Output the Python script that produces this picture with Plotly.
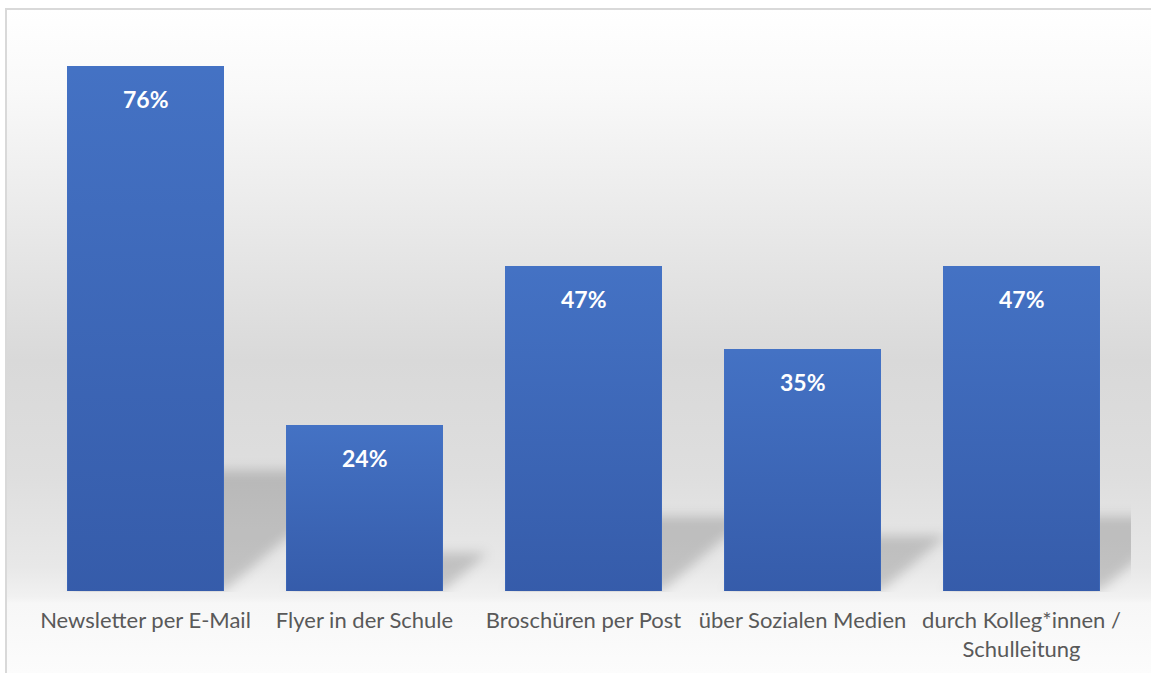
import base64
import plotly.graph_objects as go

# ---------------- data ----------------
categories = [
    "Newsletter per E-Mail",
    "Flyer in der Schule",
    "Broschüren per Post",
    "über Sozialen Medien",
    "durch Kolleg*innen /<br>Schulleitung",
]
values = [76, 24, 47, 35, 47]
value_labels = ["76%", "24%", "47%", "35%", "47%"]

# ---------------- layout constants ----------------
W, H = 1151, 673
ML, MR, MT, MB = 36, 20, 38, 82
Y_MAX = 80
BAR_W = 0.713
N = len(categories)
plot_w = W - ML - MR
plot_h = H - MT - MB
BAR_COLOR = "#4472C4"
TEXT_GREY = "#595959"
FONT = "Lato, 'Open Sans', sans-serif"


def px_x(xv):
    return ML + (xv + 0.5) / N * plot_w


def px_y(v):
    return MT + (1 - v / Y_MAX) * plot_h


# ---------------- background (gradient + soft perspective shadows) ----------------
yb = px_y(0)
polys = []
for i, v in enumerate(values):
    x0 = px_x(i - BAR_W / 2)
    x1 = px_x(i + BAR_W / 2)
    h = yb - px_y(v)
    sh = 0.23 * h
    dx = sh / 0.84
    pts = [(x0, yb), (x1, yb), (x1 + dx, yb - sh), (x0 + dx, yb - sh)]
    polys.append(" ".join(f"{a:.1f},{b:.1f}" for a, b in pts))

shadow_svg = "".join(
    f'<polygon points="{p}" fill="#000" fill-opacity="0.17"/>' for p in polys
)

svg = f'''<svg xmlns="http://www.w3.org/2000/svg" width="{W}" height="{H}" viewBox="0 0 {W} {H}">
<defs>
<linearGradient id="bg" x1="0" y1="9" x2="0" y2="{H}" gradientUnits="userSpaceOnUse">
<stop offset="0" stop-color="#ffffff"/>
<stop offset="0.12" stop-color="#f9f9f9"/>
<stop offset="0.53" stop-color="#d9d9d9"/>
<stop offset="0.70" stop-color="#dedede"/>
<stop offset="0.84" stop-color="#e8e8e8"/>
<stop offset="0.885" stop-color="#f1f1f1"/>
<stop offset="0.895" stop-color="#f7f7f7"/>
<stop offset="1" stop-color="#fcfcfc"/>
</linearGradient>
<filter id="blur" x="-20%" y="-50%" width="140%" height="200%">
<feGaussianBlur stdDeviation="6"/>
</filter>
<clipPath id="pc"><rect x="{ML}" y="{MT}" width="{plot_w}" height="{yb - MT + 1:.1f}"/></clipPath>
</defs>
<rect x="6" y="9" width="{W + 20}" height="{H + 20}" fill="url(#bg)" stroke="#d9d9d9" stroke-width="2"/>
<g clip-path="url(#pc)"><g filter="url(#blur)">{shadow_svg}</g></g>
</svg>'''

svg_uri = "data:image/svg+xml;base64," + base64.b64encode(svg.encode("utf-8")).decode("ascii")

# ---------------- figure ----------------
fig = go.Figure()

xs = list(range(N))
fig.add_trace(
    go.Bar(
        x=xs,
        y=values,
        width=[BAR_W] * N,
        marker=dict(color=BAR_COLOR, line=dict(width=0)),
        hoverinfo="skip",
        showlegend=False,
    )
)

# subtle vertical shading on each bar (darker toward the base)
for i, v in enumerate(values):
    fig.add_trace(
        go.Scatter(
            x=[i - BAR_W / 2, i + BAR_W / 2, i + BAR_W / 2, i - BAR_W / 2, i - BAR_W / 2],
            y=[0, 0, v, v, 0],
            mode="lines",
            line=dict(width=0, color="rgba(0,0,0,0)"),
            fill="toself",
            fillgradient=dict(
                type="vertical",
                colorscale=[[0, "rgba(20,40,110,0.30)"], [1, "rgba(20,40,110,0)"]],
            ),
            hoverinfo="skip",
            showlegend=False,
        )
    )

for i, (v, lab) in enumerate(zip(values, value_labels)):
    fig.add_annotation(
        x=i,
        y=v,
        text=f"<b>{lab}</b>",
        showarrow=False,
        yanchor="middle",
        yshift=-33,
        font=dict(family=FONT, size=23, color="#ffffff"),
    )

fig.add_layout_image(
    dict(
        source=svg_uri,
        xref="paper",
        yref="paper",
        x=-ML / plot_w,
        y=1 + MT / plot_h,
        sizex=W / plot_w,
        sizey=H / plot_h,
        xanchor="left",
        yanchor="top",
        sizing="stretch",
        layer="below",
    )
)

fig.update_layout(
    width=W,
    height=H,
    margin=dict(l=ML, r=MR, t=MT, b=MB, pad=0),
    paper_bgcolor="#ffffff",
    plot_bgcolor="rgba(0,0,0,0)",
    showlegend=False,
    bargap=0,
    xaxis=dict(
        range=[-0.5, N - 0.5],
        tickmode="array",
        tickvals=xs,
        ticktext=categories,
        showgrid=False,
        zeroline=False,
        showline=False,
        ticks="",
        tickfont=dict(family=FONT, size=22, color=TEXT_GREY),
        ticklabelstandoff=14,
        fixedrange=True,
    ),
    yaxis=dict(
        range=[0, Y_MAX],
        visible=False,
        fixedrange=True,
    ),
)

fig.write_html(
    "out.html",
    config={"displayModeBar": False, "staticPlot": True},
    post_script="document.body.style.margin='0';document.body.style.overflow='hidden';",
)
